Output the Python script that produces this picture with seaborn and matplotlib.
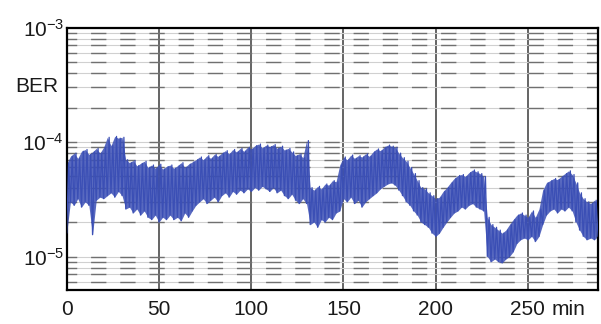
import numpy as np
import pandas as pd
import matplotlib
matplotlib.use("Agg")
import matplotlib.pyplot as plt
import seaborn as sns
from matplotlib.ticker import LogLocator, NullFormatter

# ── Data: BER envelope (units of 1e-5), every 2 min ──────────────────────────
t_min = np.arange(0, 290, 2)

ber_hi_e5 = [
    6.5, 7.5, 8.0, 7.2, 8.3, 8.6, 7.8, 8.2, 8.8, 8.0,
    9.0, 11.0, 9.3, 11.2, 10.8, 11.0, 7.0, 6.6, 6.9, 6.2,
    6.5, 6.8, 6.0, 6.3, 5.9, 6.4, 5.8, 6.1, 6.3, 5.9,
    6.2, 6.6, 6.0, 6.4, 6.7, 7.0, 7.4, 7.0, 7.6, 7.2,
    7.8, 7.5, 8.0, 8.4, 7.9, 8.6, 8.2, 8.8, 8.3, 9.0,
    8.7, 9.3, 9.6, 8.9, 9.4, 9.1, 9.5, 8.8, 9.2, 8.5,
    8.8, 8.2, 7.6, 7.9, 7.3, 10.3, 4.0, 3.8, 4.1, 3.9,
    4.3, 4.2, 4.6, 4.5, 6.3, 7.4, 7.0, 7.7, 7.2, 7.6,
    7.4, 7.9, 7.5, 8.2, 8.7, 8.4, 9.0, 9.4, 9.2, 9.0,
    8.0, 7.3, 6.8, 6.0, 5.3, 4.6, 4.0, 3.9, 3.6, 3.4,
    3.2, 3.3, 3.7, 4.0, 4.4, 4.8, 5.1, 5.2, 5.0, 5.4,
    5.7, 5.5, 5.3, 5.0, 2.2, 1.9, 1.8, 1.7, 1.6, 1.7,
    1.9, 2.1, 2.3, 2.4, 2.3, 2.2, 2.5, 2.2, 2.6, 3.8,
    4.4, 4.6, 4.8, 4.7, 5.0, 5.3, 5.6, 5.2, 4.4, 3.6,
    3.2, 3.0, 2.9, 3.1, 2.9,
]

ber_lo_e5 = [
    1.6, 3.0, 2.8, 3.2, 2.7, 3.0, 2.8, 1.55, 3.1, 3.3,
    3.2, 3.4, 3.6, 3.3, 3.7, 3.4, 2.6, 2.7, 2.4, 2.6,
    2.3, 2.5, 2.2, 2.1, 2.3, 2.0, 2.2, 2.1, 2.3, 2.1,
    2.2, 2.05, 2.4, 2.2, 2.5, 2.8, 3.0, 3.2, 2.9, 3.1,
    3.3, 3.0, 3.4, 3.6, 3.3, 3.7, 3.5, 3.8, 3.6, 3.9,
    3.7, 4.0, 3.8, 4.1, 3.9, 3.7, 4.0, 3.6, 3.8, 3.4,
    3.2, 3.5, 3.1, 2.9, 3.2, 2.9, 1.9, 2.0, 1.8, 2.1,
    2.0, 2.2, 2.1, 2.4, 2.5, 3.2, 3.0, 3.3, 2.9, 3.1,
    2.7, 3.0, 3.2, 3.4, 3.6, 3.9, 4.1, 4.3, 4.4, 4.2,
    3.8, 3.4, 3.0, 2.8, 2.5, 2.3, 2.0, 1.9, 1.8, 1.6,
    1.5, 1.6, 1.8, 2.0, 2.2, 2.4, 2.5, 2.7, 2.6, 2.8,
    2.9, 2.7, 2.6, 2.5, 1.0, 0.9, 0.95, 0.9, 0.88, 0.95,
    1.0, 1.1, 1.3, 1.4, 1.45, 1.4, 1.5, 1.35, 1.5, 1.9,
    2.3, 2.5, 2.6, 2.4, 2.6, 2.5, 2.7, 2.5, 2.0, 1.7,
    1.5, 1.4, 1.45, 1.4, 1.5,
]

x_ticks = [0, 50, 100, 150, 200, 250]
x_ticklabels = ["0", "50", "100", "150", "200", "250"]

lo = np.array(ber_lo_e5) * 1e-5
hi = np.array(ber_hi_e5) * 1e-5

# zig-zag trace: low sample, then high sample half a step later
xs = np.empty(2 * len(t_min))
ys = np.empty(2 * len(t_min))
xs[0::2] = t_min
xs[1::2] = t_min + 1
ys[0::2] = lo
ys[1::2] = hi
df = pd.DataFrame({"t": xs, "ber": ys})

# ── Style ────────────────────────────────────────────────────────────────────
sns.set_style("white")
plt.rcParams.update({
    "font.family": ["Liberation Sans", "DejaVu Sans"],
    "mathtext.fontset": "custom",
    "mathtext.rm": "Liberation Sans",
    "mathtext.default": "regular",
    "text.color": "#1a1a1a",
})

TRACE = "#3b4fb5"

fig = plt.figure(figsize=(6.01, 3.24), dpi=100)
ax = fig.add_axes([0.111, 0.105, 0.884, 0.81])

# dense noise band: envelope fill plus the jagged trace on top
ax.fill_between(t_min, lo, hi, color=TRACE, alpha=0.85, lw=0, zorder=2)
sns.lineplot(data=df, x="t", y="ber", estimator=None, sort=False,
             color=TRACE, lw=0.9, ax=ax, zorder=3)

ax.set_yscale("log")
ax.set_ylim(5.1e-6, 1e-3)
ax.set_xlim(0, 288)
ax.yaxis.set_major_locator(LogLocator(base=10))
ax.yaxis.set_minor_locator(LogLocator(base=10, subs=np.arange(2, 10)))
ax.yaxis.set_minor_formatter(NullFormatter())
ax.set_xticks(x_ticks)
ax.set_xticklabels(x_ticklabels)

ax.grid(axis="y", which="both", color="#d0d0d0", lw=0.8, ls="-", zorder=0)
for yv in ax.yaxis.get_minorticklocs().tolist() + ax.yaxis.get_majorticklocs().tolist():
    if 5.1e-6 < yv < 1e-3:
        ax.axhline(yv, color="#707070", lw=1.0, ls=(4, (11, 10)), zorder=1)
ax.grid(axis="x", which="major", color="#3a3a3a", lw=1.1, ls="-", zorder=1)

ax.tick_params(axis="both", which="both", length=0, labelsize=15, colors="#1a1a1a")
ax.tick_params(axis="x", pad=7)
ax.tick_params(axis="y", pad=2)
ax.set_xlabel("")
ax.set_ylabel("")

for sp in ax.spines.values():
    sp.set_visible(True)
    sp.set_color("black")
    sp.set_linewidth(1.6)

ax.annotate("min", xy=(250, 0), xycoords=("data", "axes fraction"),
            xytext=(17, -7), textcoords="offset points",
            ha="left", va="top", fontsize=15)
fig.text(15 / 601, 1 - 86 / 324, "BER", ha="left", va="center", fontsize=15)

fig.savefig("out.png", dpi=100)
